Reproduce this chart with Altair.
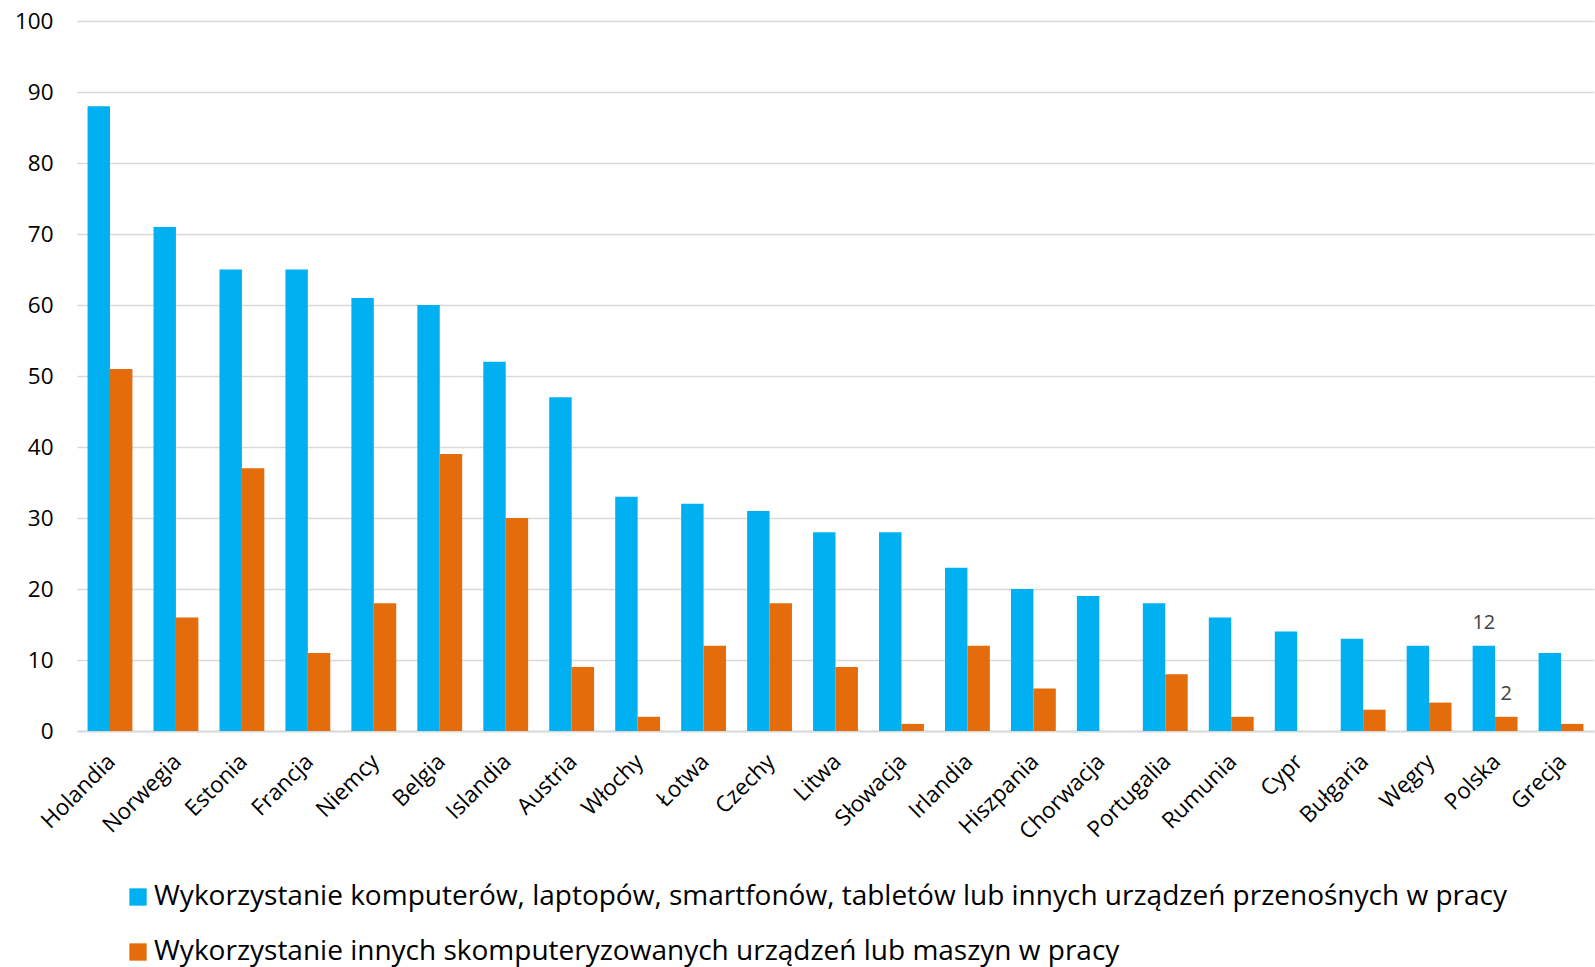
import altair as alt
import pandas as pd

countries = ["Holandia", "Norwegia", "Estonia", "Francja", "Niemcy", "Belgia", "Islandia",
             "Austria", "Włochy", "Łotwa", "Czechy", "Litwa", "Słowacja", "Irlandia",
             "Hiszpania", "Chorwacja", "Portugalia", "Rumunia", "Cypr", "Bułgaria",
             "Węgry", "Polska", "Grecja"]

mobile_devices = [88, 71, 65, 65, 61, 60, 52, 47, 33, 32, 31, 28, 28, 23, 20, 19, 18, 16,
                  14, 13, 12, 12, 11]
other_machines = [51, 16, 37, 11, 18, 39, 30, 9, 2, 12, 18, 9, 1, 12, 6, None, 8, 2,
                  None, 3, 4, 2, 1]

series_names = [
    "Wykorzystanie komputerów, laptopów, smartfonów, tabletów lub innych urządzeń przenośnych w pracy",
    "Wykorzystanie innych skomputeryzowanych urządzeń lub maszyn w pracy",
]
series_colors = ["#00B0F0", "#E46C0A"]
labelled_country = "Polska"

rows = []
for c, a, b in zip(countries, mobile_devices, other_machines):
    rows.append({"kraj": c, "seria": series_names[0], "wartosc": a})
    rows.append({"kraj": c, "seria": series_names[1], "wartosc": b})
df = pd.DataFrame(rows).dropna(subset=["wartosc"])

FONT = "Open Sans"

x_enc = alt.X("kraj:N", sort=countries, title=None,
              scale=alt.Scale(paddingInner=0.32, paddingOuter=0.16),
              axis=alt.Axis(labelAngle=-45, labelAlign="right", labelBaseline="top",
                            labelFontSize=22.5, labelColor="#000000", labelPadding=19,
                            labelOffset=-6,
                            ticks=False, domain=True, domainColor="#D9D9D9",
                            domainWidth=2, labelFont=FONT, labelLimit=300))
y_enc = alt.Y("wartosc:Q", title=None,
              scale=alt.Scale(domain=[0, 100], nice=False),
              axis=alt.Axis(values=list(range(0, 101, 10)), grid=True,
                            gridColor="#D9D9D9", gridWidth=1.5, domain=False,
                            ticks=False, labelFontSize=22.5, labelColor="#000000",
                            labelPadding=24, labelFont=FONT))
color_enc = alt.Color("seria:N", sort=series_names,
                      scale=alt.Scale(domain=series_names, range=series_colors),
                      legend=alt.Legend(title=None, orient="none", legendX=47, legendY=862,
                                        direction="vertical", columns=1,
                                        symbolType="square", symbolSize=300,
                                        symbolStrokeWidth=0, labelFontSize=28,
                                        labelFont=FONT, labelColor="#000000",
                                        labelLimit=2000, rowPadding=27, labelOffset=2))

bars = alt.Chart(df).mark_bar().encode(
    x=x_enc,
    xOffset=alt.XOffset("seria:N", sort=series_names),
    y=y_enc,
    color=color_enc,
)

labels = alt.Chart(df).transform_filter(
    alt.datum.kraj == labelled_country
).mark_text(baseline="bottom", dy=-13, fontSize=20, color="#404040", font=FONT).encode(
    x=alt.X("kraj:N", sort=countries),
    xOffset=alt.XOffset("seria:N", sort=series_names),
    y="wartosc:Q",
    text=alt.Text("wartosc:Q", format="d"),
)

chart = (bars + labels).properties(
    width=1517, height=710,
    autosize=alt.AutoSizeParams(type="none"),
    padding={"left": 77, "top": 21, "right": 1, "bottom": 236},
    background="#FFFFFF",
).configure_view(stroke=None)

chart.save("out.html", embed_options={"renderer": "svg", "actions": False})
